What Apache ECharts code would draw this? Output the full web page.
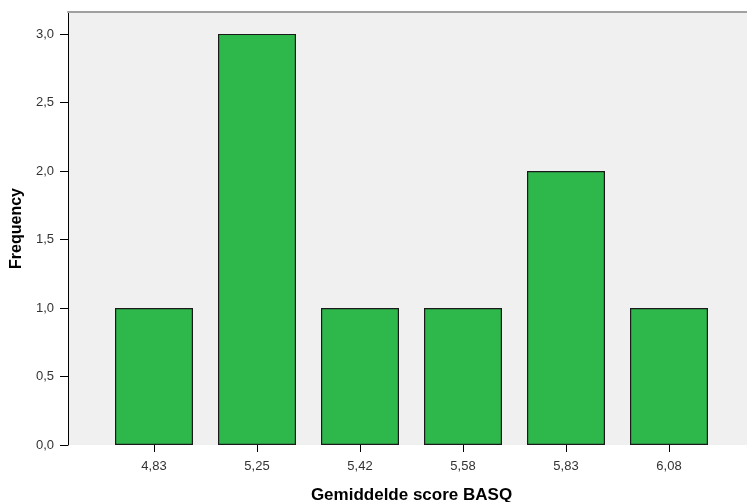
<!DOCTYPE html>
<html>
<head>
<meta charset="utf-8">
<script src="https://cdn.jsdelivr.net/npm/echarts@6/dist/echarts.min.js"></script>
<style>html,body{margin:0;padding:0;background:#fff}#c{width:747px;height:502px}</style>
</head>
<body>
<div id="c"></div>
<script>
var categories = ['4,83', '5,25', '5,42', '5,58', '5,83', '6,08'];
var frequencies = [1, 3, 1, 1, 2, 1];
var yTicks = [0, 0.5, 1.0, 1.5, 2.0, 2.5, 3.0];
var xTitle = 'Gemiddelde score BASQ';
var yTitle = 'Frequency';

var yMax = 3.16;
var font = 'Liberation Sans, Arial, sans-serif';
var chart = echarts.init(document.getElementById('c'));
chart.setOption({
  animation: false,
  grid: [
    {left: 68, right: -20, top: 12, bottom: 57, show: true, backgroundColor: '#F0F0F0', borderWidth: 0, containLabel: false, outerBoundsMode: 'none'},
    {left: 102.5, width: 618, top: 12, bottom: 57, containLabel: false, outerBoundsMode: 'none'}
  ],
  xAxis: [
    {gridIndex: 0, type: 'value', position: 'top', min: 0, max: 1,
     axisLine: {show: true, onZero: false, lineStyle: {color: '#A0A0A0', width: 2}},
     axisTick: {show: false}, axisLabel: {show: false}, splitLine: {show: false}},
    {gridIndex: 1, type: 'category', data: categories,
     axisLine: {show: false},
     axisTick: {show: true, alignWithLabel: true, length: 7, lineStyle: {color: '#000'}},
     axisLabel: {color: '#333', fontFamily: font, fontSize: 13, margin: 15},
     name: xTitle, nameLocation: 'middle', nameGap: 42,
     nameTextStyle: {fontFamily: font, fontSize: 17, fontWeight: 'bold', color: '#000'}}
  ],
  yAxis: [
    {gridIndex: 0, type: 'value', min: 0, max: yMax,
     axisLine: {show: true, lineStyle: {color: '#000', width: 1}},
     axisTick: {show: true, length: 8, customValues: yTicks, lineStyle: {color: '#000'}},
     axisLabel: {color: '#333', fontFamily: font, fontSize: 13, margin: 14, customValues: yTicks,
       formatter: function (v) { return v.toFixed(1).replace('.', ','); }},
     splitLine: {show: false},
     name: yTitle, nameLocation: 'middle', nameRotate: 90, nameGap: 38,
     nameTextStyle: {fontFamily: font, fontSize: 16, fontWeight: 'bold', color: '#000'}},
    {gridIndex: 1, type: 'value', min: 0, max: yMax, show: false}
  ],
  series: [{
    type: 'bar', xAxisIndex: 1, yAxisIndex: 1,
    data: frequencies, barWidth: 78,
    itemStyle: {color: '#2EB84B', borderColor: '#1A1A1A', borderWidth: 1.2}
  }]
});
</script>
</body>
</html>
